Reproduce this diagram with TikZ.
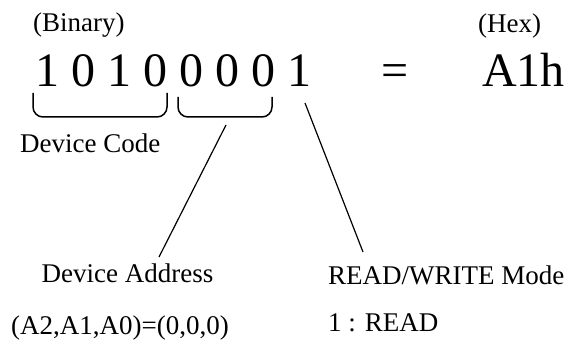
\documentclass[tikz,border=0pt]{standalone}
\usepackage{fontspec}
\setmainfont{Liberation Serif}
\begin{document}
\begin{tikzpicture}[x=1pt,y=-1pt,
  lbl/.style={inner sep=0pt,font=\fontsize{27}{32}\selectfont},
  big/.style={inner sep=0pt,anchor=base,font=\fontsize{48}{56}\selectfont},
  bracket/.style={line width=1.5pt,rounded corners=10pt},
  conn/.style={line width=1.2pt}]
\useasboundingbox (0,0) rectangle (576,347);
% labels
\node[lbl,anchor=base west] (bin) at (33,32) {(Binary)};
\node[lbl,anchor=base west] (hex) at (478,33) {(Hex)};
% digits
\node[big] (d1) at (47,87) {1};
\node[big] (d2) at (83,87) {0};
\node[big] (d3) at (119,87) {1};
\node[big] (d4) at (155,87) {0};
\node[big] (d5) at (191,87) {0};
\node[big] (d6) at (227,87) {0};
\node[big] (d7) at (263,87) {0};
\node[big] (d8) at (299,87) {1};
\node[big] (eq) at (395,87) {=};
\node[big,anchor=base west] (a1h) at (482,87) {A1h};
% brackets
\coordinate (b1l) at (33,93);
\coordinate (b1r) at (167,93);
\coordinate (b2l) at (178,97);
\coordinate (b2r) at (272,97);
\draw[bracket] (b1l) |- (100,117) -| (b1r);
\draw[bracket] (b2l) |- (225,117) -| (b2r);
% bottom labels
\node[lbl,anchor=base west] (dc) at (20,153) {Device Code};
\node[lbl,anchor=base] (da) at (127.5,283) {Device Address};
\node[lbl,anchor=base] (dav) at (120,335) {(A2,A1,A0)=(0,0,0)};
\node[lbl,anchor=base west] (rw) at (328,285) {READ/WRITE Mode};
\node[lbl,anchor=base west] (rd) at (328,332) {1 : READ};
% connectors
\coordinate (c1s) at (226,125);
\coordinate (c1e) at (159,257);
\coordinate (c2s) at (305,103);
\coordinate (c2e) at (363,252);
\draw[conn] (c1s) -- (c1e);
\draw[conn] (c2s) -- (c2e);
\end{tikzpicture}
\end{document}
